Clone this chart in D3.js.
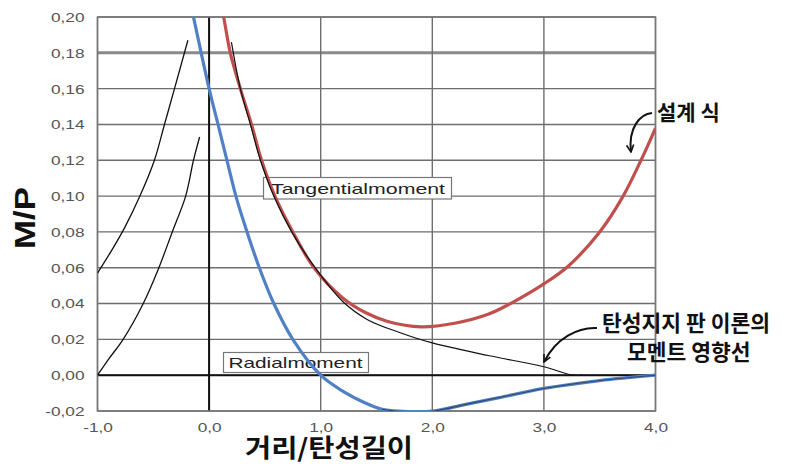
<!DOCTYPE html>
<html><head><meta charset="utf-8">
<script src="https://cdn.jsdelivr.net/npm/d3@7"></script>
<style>
html,body{margin:0;padding:0;background:#fff;}
svg{display:block;}
</style>
</head><body>
<svg id="c" width="798" height="464"></svg>
<script>
// ---- data ----
const xTicks = [-1, 0, 1, 2, 3, 4];
const yTicks = [-0.02, 0, 0.02, 0.04, 0.06, 0.08, 0.10, 0.12, 0.14, 0.16, 0.18, 0.20];

// design formula, radial moment (blue)
const radialX = [-0.16, -0.14, 0.0, 0.08, 0.16, 0.24, 0.34, 0.45, 0.58, 0.75, 1.0, 1.2, 1.4, 1.55, 1.7, 2.0, 2.3, 2.6, 3.0, 3.5, 4.0];
const radialY = [0.206, 0.20, 0.16, 0.14, 0.12, 0.10, 0.08, 0.06, 0.04, 0.02, 0.0, -0.009, -0.0155, -0.019, -0.0201, -0.0201, -0.0163, -0.0125, -0.0074, -0.003, 0.0];

// design formula, tangential moment (red)
const tangX = [0.10, 0.13, 0.19, 0.28, 0.38, 0.47, 0.59, 0.75, 0.94, 1.2, 1.4, 1.6, 1.9, 2.2, 2.5, 2.7, 3.0, 3.22, 3.5, 3.71, 3.87, 4.0];
const tangY = [0.208, 0.20, 0.18, 0.16, 0.14, 0.12, 0.10, 0.08, 0.06, 0.043, 0.035, 0.030, 0.027, 0.029, 0.034, 0.040, 0.051, 0.061, 0.08, 0.10, 0.12, 0.138];

// elastic plate theory, tangential influence line (thin black)
const theoryTanX = [0.20, 0.28, 0.37, 0.46, 0.58, 0.74, 0.95, 1.2, 1.42, 1.7, 2.0, 2.5, 3.0, 3.26, 3.35];
const theoryTanY = [0.186, 0.16, 0.14, 0.12, 0.10, 0.08, 0.06, 0.041, 0.031, 0.024, 0.018, 0.011, 0.0047, 0.0, 0.0];

// elastic plate theory, radial influence line (thin dark, over blue)
const theoryRadX = [1.55, 1.7, 2.0, 2.3, 2.6, 3.0, 3.5, 4.0];
const theoryRadY = [-0.019, -0.0201, -0.0201, -0.0163, -0.0125, -0.0074, -0.003, 0.0];

// influence lines left of the load (thin black)
const leftAX = [-1.0, -0.88, -0.76, -0.62, -0.49, -0.40, -0.31, -0.19];
const leftAY = [0.057, 0.069, 0.082, 0.10, 0.12, 0.14, 0.16, 0.187];
const leftBX = [-1.0, -0.9, -0.77, -0.59, -0.45, -0.33, -0.21, -0.14, -0.085];
const leftBY = [0.0, 0.009, 0.02, 0.04, 0.06, 0.08, 0.10, 0.12, 0.133];

// texts
const yTitle = "M/P";
const xTitle = "거리/탄성길이";
const tangLabel = "Tangentialmoment";
const radLabel = "Radialmoment";
const noteDesign = "설계 식";
const noteTheory = ["탄성지지 판 이론의", "모멘트 영향선"];

// ---- drawing ----
const svg = d3.select("#c");
const L = 97.5, R = 655.5, T = 17, B = 411;
const x = d3.scaleLinear().domain([-1, 4]).range([L, R]);
const y = d3.scaleLinear().domain([-0.02, 0.20]).range([B, T]);
const fmtY = v => d3.format(".2f")(v).replace(".", ",").replace("−", "-");
const fmtX = v => d3.format(".1f")(v).replace(".", ",").replace("−", "-");
const latin = "'Liberation Sans', Arial, sans-serif";
const kr = "'Noto Sans CJK KR', sans-serif";
const SX = 1.38; // horizontal stretch of latin text in the original

svg.append("defs").append("clipPath").attr("id", "clip")
  .append("rect").attr("x", L).attr("y", T).attr("width", R - L).attr("height", B - T);

// grid
const grid = svg.append("g");
grid.selectAll(".hy").data(yTicks).join("line")
  .attr("x1", L).attr("x2", R)
  .attr("y1", d => y(d)).attr("y2", d => y(d))
  .attr("stroke", d => Math.abs(d - 0.18) < 1e-9 ? "#8a8a8a" : "#6e6e6e")
  .attr("stroke-width", d => Math.abs(d - 0.18) < 1e-9 ? 3 : 1.4);
grid.selectAll(".vx").data(xTicks).join("line")
  .attr("y1", T).attr("y2", B)
  .attr("x1", d => x(d)).attr("x2", d => x(d))
  .attr("stroke", "#6e6e6e").attr("stroke-width", 1.4);
// zero axes
grid.append("line").attr("x1", L).attr("x2", R).attr("y1", y(0)).attr("y2", y(0))
  .attr("stroke", "#111").attr("stroke-width", 2);
grid.append("line").attr("x1", x(0)).attr("x2", x(0)).attr("y1", T).attr("y2", B)
  .attr("stroke", "#111").attr("stroke-width", 2);
// frame
svg.append("rect").attr("x", L).attr("y", T).attr("width", R - L).attr("height", B - T)
  .attr("fill", "none").attr("stroke", "#777").attr("stroke-width", 1.5);

// axes (labels only)
const yAxis = svg.append("g").attr("transform", `translate(${L},0)`)
  .call(d3.axisLeft(y).tickValues(yTicks).tickFormat(fmtY).tickSize(0).tickPadding(0));
yAxis.select(".domain").remove();
yAxis.selectAll("text")
  .attr("x", -13 / SX).attr("dy", "0.35em")
  .attr("transform", `scale(${SX},1)`)
  .attr("fill", "#555").style("font-family", latin).style("font-size", "12.5px");

const xAxis = svg.append("g").attr("transform", `translate(0,${B})`)
  .call(d3.axisBottom(x).tickValues(xTicks).tickFormat(fmtX).tickSize(0).tickPadding(0));
xAxis.select(".domain").remove();
xAxis.selectAll(".tick text").attr("y", 21).attr("dy", 0)
  .attr("transform", `scale(${SX},1)`)
  .attr("fill", "#555").style("font-family", latin).style("font-size", "12.5px");

// axis titles
svg.append("text").attr("transform", "translate(35,218) rotate(-90)")
  .attr("text-anchor", "middle").attr("textLength", 62).attr("lengthAdjust", "spacingAndGlyphs")
  .style("font-family", latin).style("font-weight", "bold").style("font-size", "30px")
  .attr("fill", "#111").text(yTitle);
svg.append("text").attr("x", 329).attr("y", 456.5).attr("text-anchor", "middle")
  .attr("textLength", 168).attr("lengthAdjust", "spacingAndGlyphs")
  .style("font-family", kr).style("font-weight", "700").style("font-size", "25px")
  .attr("fill", "#111").text(xTitle);

// label boxes (under curves)
function box(x0, y0, w, h, tx, ty, tl, txt) {
  svg.append("rect").attr("x", x0).attr("y", y0).attr("width", w).attr("height", h)
    .attr("fill", "#fff").attr("stroke", "#777").attr("stroke-width", 1.2);
  svg.append("text").attr("x", tx).attr("y", ty)
    .attr("textLength", tl).attr("lengthAdjust", "spacingAndGlyphs")
    .style("font-family", latin).style("font-size", "15px").attr("fill", "#222").text(txt);
}
box(263.5, 177.5, 188, 21.5, 271, 193.5, 174, tangLabel);
box(223.5, 352.5, 145, 20, 228.5, 367.5, 134, radLabel);

// curves
const line = d3.line().curve(d3.curveCatmullRom.alpha(0.5));
const plot = svg.append("g").attr("clip-path", "url(#clip)");
const pts = (xs, ys) => xs.map((v, i) => [x(v), y(ys[i])]);

plot.append("path").attr("d", line(pts(leftAX, leftAY)))
  .attr("fill", "none").attr("stroke", "#111").attr("stroke-width", 1.3);
plot.append("path").attr("d", line(pts(leftBX, leftBY)))
  .attr("fill", "none").attr("stroke", "#111").attr("stroke-width", 1.3);
plot.append("path").attr("d", line(pts(radialX, radialY)))
  .attr("fill", "none").attr("stroke", "#4f81c4").attr("stroke-width", 3.2);
plot.append("path").attr("d", line(pts(theoryRadX, theoryRadY)))
  .attr("fill", "none").attr("stroke", "#34496a").attr("stroke-width", 1.1);
plot.append("path").attr("d", line(pts(tangX, tangY)))
  .attr("fill", "none").attr("stroke", "#c0504d").attr("stroke-width", 3.2);
plot.append("path").attr("d", line(pts(theoryTanX, theoryTanY)))
  .attr("fill", "none").attr("stroke", "#111").attr("stroke-width", 1.2);

// annotations
svg.append("defs").append("marker").attr("id", "arr")
  .attr("viewBox", "0 0 10 10").attr("refX", 9).attr("refY", 5)
  .attr("markerWidth", 9).attr("markerHeight", 9).attr("orient", "auto")
  .attr("markerUnits", "userSpaceOnUse")
  .append("path").attr("d", "M1,1 L9,5 L1,9").attr("fill", "none")
  .attr("stroke", "#111").attr("stroke-width", 1.8);

svg.append("path").attr("d", "M652,113 C640,114 628,128 631,152")
  .attr("fill", "none").attr("stroke", "#111").attr("stroke-width", 2).attr("marker-end", "url(#arr)");
svg.append("path").attr("d", "M597,328 C578,327 556,338 544,362")
  .attr("fill", "none").attr("stroke", "#111").attr("stroke-width", 2).attr("marker-end", "url(#arr)");

svg.append("text").attr("x", 657).attr("y", 120)
  .style("font-family", kr).style("font-weight", "700").style("font-size", "21px")
  .attr("fill", "#111").text(noteDesign);
svg.append("text").attr("x", 602).attr("y", 331)
  .style("font-family", kr).style("font-weight", "700").style("font-size", "21.5px")
  .attr("fill", "#111").text(noteTheory[0]);
svg.append("text").attr("x", 627).attr("y", 360)
  .style("font-family", kr).style("font-weight", "700").style("font-size", "21.5px")
  .attr("fill", "#111").text(noteTheory[1]);
</script>
</body></html>
